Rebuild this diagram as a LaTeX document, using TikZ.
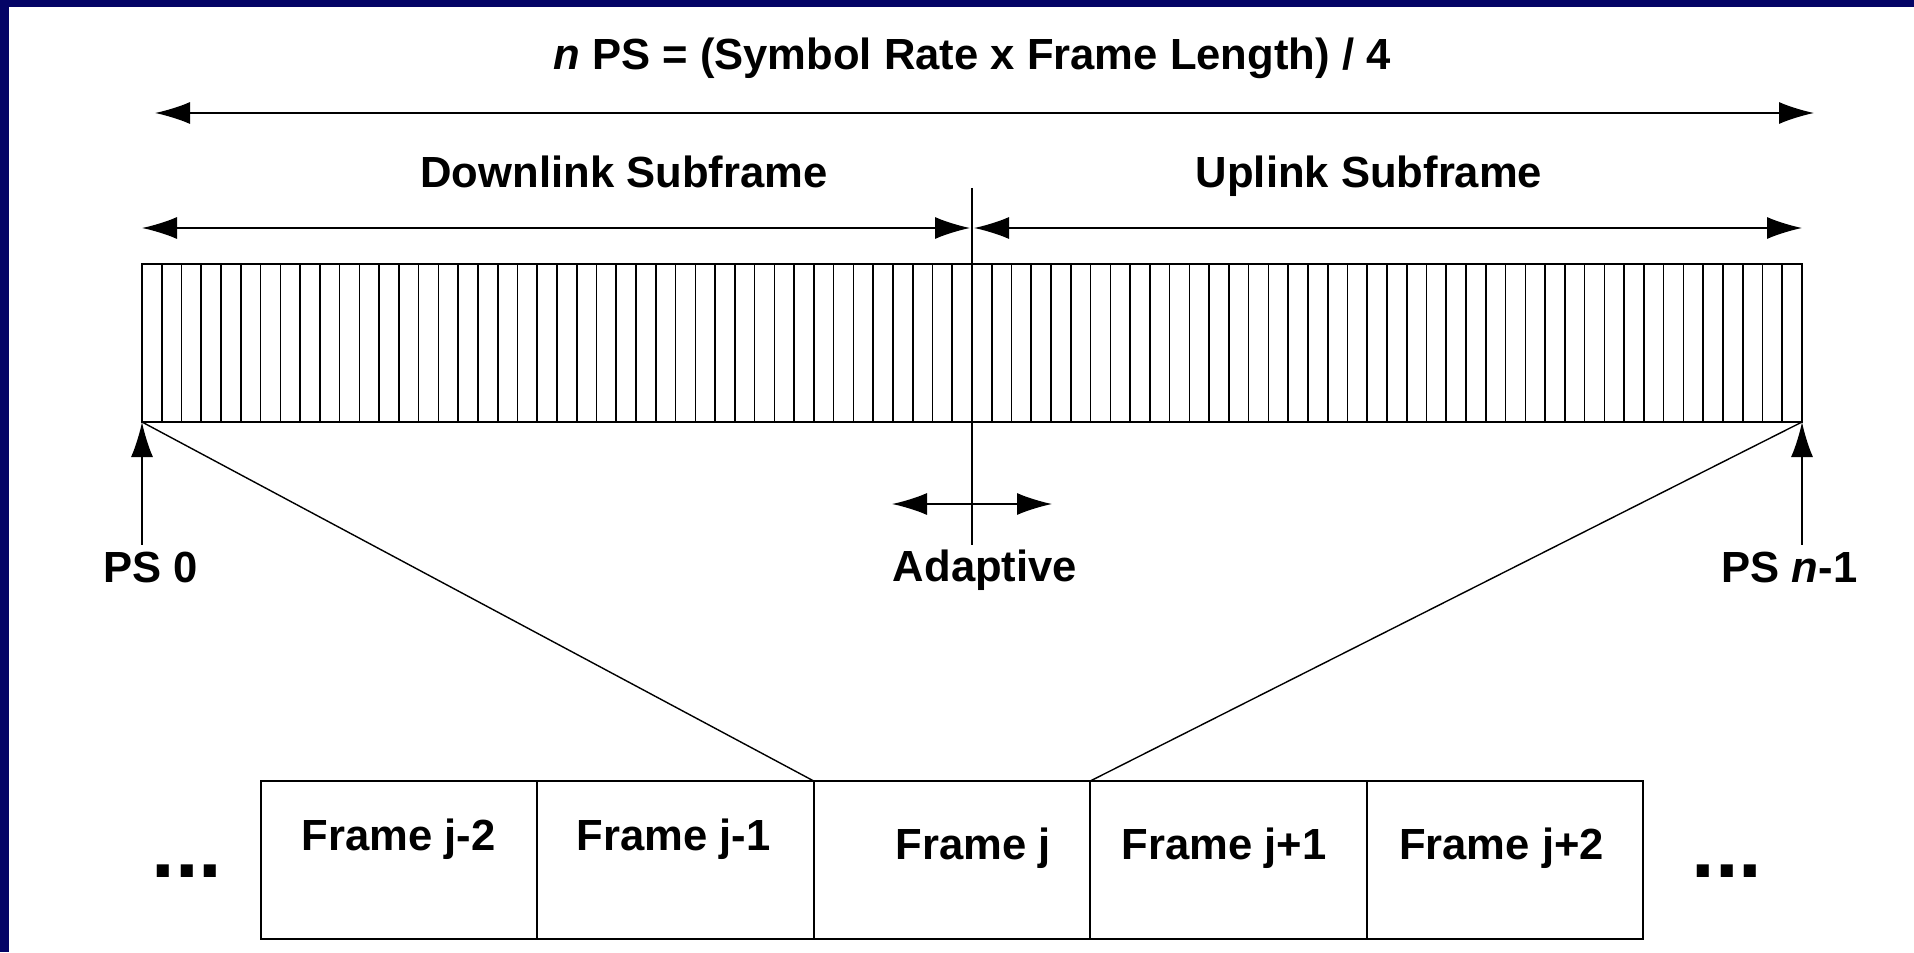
\documentclass[tikz,border=0pt]{standalone}
\usepackage{fontspec}
\setmainfont{Liberation Sans}
\usetikzlibrary{arrows.meta, calc, positioning}
\definecolor{slidenavy}{RGB}{4,4,102}
\tikzset{lbl/.style={font=\bfseries\fontsize{21.8}{26}\selectfont, anchor=base, inner sep=0pt},
         ellip/.style={font=\bfseries\fontsize{42.5}{50}\selectfont, anchor=base, inner sep=0pt},
         framebox/.style={draw, line width=1pt, minimum width=138.25pt, minimum height=79pt, inner sep=0pt, outer sep=0pt},
         dimline/.style={line width=0.8pt, <->},
         >={Latex[length=17.5pt,width=11pt]}}

\begin{document}
\begin{tikzpicture}[x=0.5pt, y=-0.5pt, line width=0.8pt]
        \useasboundingbox (0,0) rectangle (1914,952);
        \fill[slidenavy] (0,0) rectangle (1914,952);
        \fill[white] (9,7) rectangle (1914,952);

        % physical slots
        \node[draw, minimum width=830pt, minimum height=79pt, inner sep=0pt, outer sep=0pt](bar) at (972,343){};
        \foreach \i in {1,...,83}
            \draw ($(bar.north west)!\i/84!(bar.north east)$) -- ($(bar.south west)!\i/84!(bar.south east)$);

        \node[lbl](title) at (972,70){\textit{n} PS = (Symbol Rate x Frame Length) / 4};
        \coordinate (tl) at (155,113);
        \coordinate (tr) at (1814,113);
        \draw[dimline] (tl) -- (tr);

        \node[lbl](down) at (624,188){Downlink Subframe};
        \node[lbl](up) at (1369,188){Uplink Subframe};
        \coordinate (dl) at (142,228);
        \coordinate (dr) at (970,228);
        \coordinate (ul) at (974,228);
        \coordinate (ur) at (1802,228);
        \draw[dimline] (dl) -- (dr);
        \draw[dimline] (ul) -- (ur);

        \coordinate (split) at (972,188);
        \coordinate (splitend) at (972,545);
        \draw (split) -- (splitend);
        \coordinate (al) at (892,504);
        \coordinate (ar) at (1052,504);
        \draw[dimline] (al) -- (ar);
        \node[lbl](adaptive) at (985,581){Adaptive};

        \node[lbl](ps0) at (151,582){PS 0};
        \node[lbl](psn) at (1789.5,582){PS \textit{n}-1};
        \draw[->] ($(bar.south west |- ps0.north)+(0,-6)$) -- (bar.south west);
        \draw[->] ($(bar.south east |- psn.north)+(0,-6)$) -- (bar.south east);

        % frames
        \foreach \i in {1,...,5}
            \node[framebox](f\i) at (122.5+276.5*\i,860){};
        \node[lbl](l1) at (398.5,850){Frame j-2};
        \node[lbl](l2) at (673.5,850){Frame j-1};
        \node[lbl](l3) at (973.5,859){Frame j};
        \node[lbl](l4) at (1224,859){Frame j+1};
        \node[lbl](l5) at (1501.5,859){Frame j+2};
        \node[ellip](more1) at (187,877){...};
        \node[ellip](more2) at (1727,877){...};

        \draw[line width=0.7pt] (bar.south west) -- (f3.north west);
        \draw[line width=0.7pt] (bar.south east) -- (f3.north east);
    \end{tikzpicture}
\end{document}
